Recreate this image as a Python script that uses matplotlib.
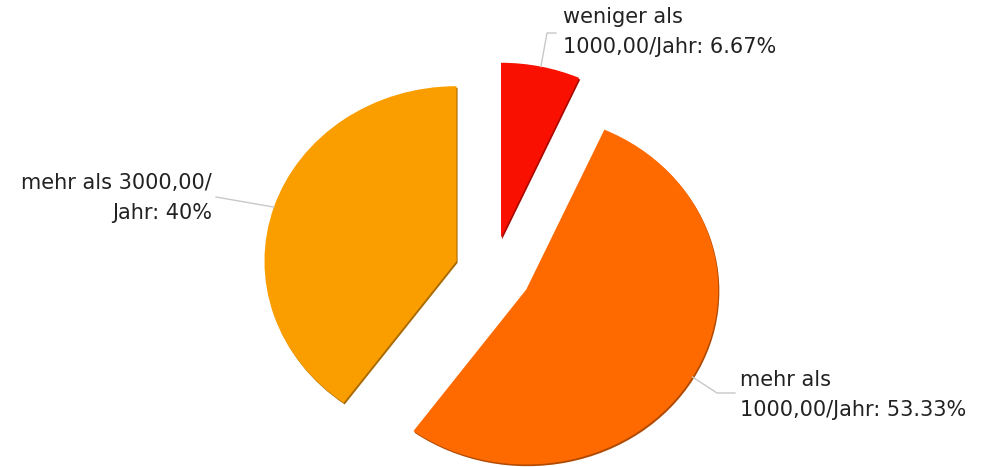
import numpy as np
import matplotlib
matplotlib.use("Agg")
import matplotlib.pyplot as plt
import matplotlib.patheffects as pe

labels = ["weniger als\n1000,00/Jahr: 6.67%",
          "mehr als\n1000,00/Jahr: 53.33%",
          "mehr als 3000,00/\nJahr: 40%"]
shares = [6.67, 53.33, 40.0]
colors = ["#FA1000", "#FF6A00", "#FA9E00"]
shade = ["#A80A00", "#B04A00", "#A86A00"]

# pixel layout of the original picture
CX, CY, RX, RY = 493, 272, 192, 175
W, H = 987, 467


def px(x, y):
    return (x - CX) / RX, (CY - y) / RY


fig = plt.figure(figsize=(9.87, 4.67), dpi=100)
ax = fig.add_axes([0, 0, 1, 1])

wedges, _ = ax.pie(shares, colors=colors, startangle=90, counterclock=False,
                   explode=[0.2] * 3, radius=1.0,
                   wedgeprops=dict(linewidth=0))
for w, s in zip(wedges, shade):
    w.set_path_effects([pe.SimplePatchShadow(offset=(0.8, -1.2), shadow_rgbFace=s, alpha=1.0),
                        pe.Normal()])

ax.set_aspect("auto")
x0, _ = px(0, 0)
x1, _ = px(W, 0)
_, y0 = px(0, H)
_, y1 = px(0, 0)
ax.set_xlim(x0, x1)
ax.set_ylim(y0, y1)
ax.axis("off")

# leader lines (pixel waypoints after the wedge edge) and label anchors
leaders = [[(547, 33), (556, 33)],
           [(717, 393), (735, 393)],
           [(216, 197)]]
anchors = [((563, 32), "left"), ((740, 395), "left"), ((212, 198), "right")]

for w, pts, (pos, ha), lab in zip(wedges, leaders, anchors, labels):
    mid = np.deg2rad((w.theta1 + w.theta2) / 2)
    cx, cy = w.center
    xs = [cx + w.r * np.cos(mid)] + [px(*p)[0] for p in pts]
    ys = [cy + w.r * np.sin(mid)] + [px(*p)[1] for p in pts]
    ax.plot(xs, ys, color="#C8C8C8", lw=1, zorder=1)
    tx, ty = px(*pos)
    ax.text(tx, ty, lab, ha=ha, va="center", multialignment=ha,
            fontsize=15, color="#222222", linespacing=1.6, family="DejaVu Sans")

plt.savefig("out.png", dpi=100)
